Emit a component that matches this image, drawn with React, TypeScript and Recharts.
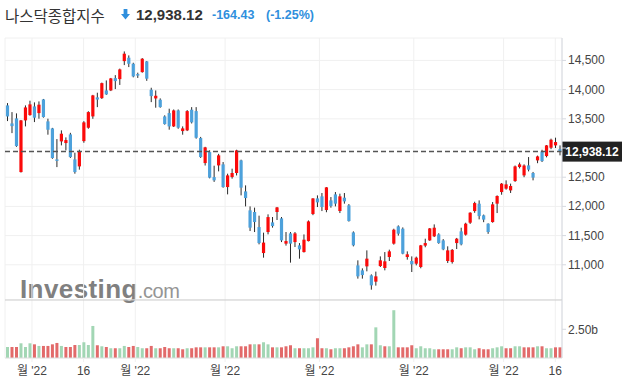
import { ComposedChart, Bar, XAxis, YAxis, CartesianGrid, ReferenceLine, Cell } from 'recharts';

// daily candles, Feb 18 - Aug 17 2022
const opens = [
  13730, 13421, 13507, 12588, 13473, 13564, 13712, 13598, 13832, 13456,
  13336, 12805, 13113, 13085, 13233, 12805, 12685, 13118, 13347, 13541,
  13867, 13854, 13986, 13986, 14197, 14180, 14488, 14546, 14443, 14266,
  14300, 14483, 13998, 13849, 13827, 13541, 13598, 13370, 13644, 13290,
  13302, 13656, 13632, 13170, 12742, 12930, 12502, 12702, 12720, 12331,
  12502, 12572, 12788, 12257, 11932, 11904, 11646, 11201, 11561, 11726,
  11904, 11795, 11362, 11538, 11389, 11333, 11218, 11406, 11869, 12137,
  12172, 11938, 12103, 12206, 11921, 12149, 12018, 11555, 10990, 10905,
  10973, 10819, 10711, 10979, 10945, 11133, 11362, 11658, 11618, 11133,
  11065, 11019, 10962, 11328, 11418, 11487, 11521, 11418, 11065, 11047,
  11372, 11572, 11516, 11721, 11920, 12046, 11847, 11704, 11732, 12047,
  12246, 12304, 12274, 12434, 12674, 12531, 12703, 12572, 12788, 12942,
  12862, 13005, 13045, 12981,
];
const highs = [
  13769, 13615, 13593, 13480, 13730, 13810, 13781, 13798, 13840, 13502,
  13345, 13153, 13302, 13182, 13260, 12920, 12971, 13460, 13630, 13910,
  13947, 14120, 14157, 14200, 14248, 14360, 14654, 14586, 14460, 14290,
  14540, 14490, 14032, 13986, 13850, 13560, 13673, 13660, 13660, 13370,
  13650, 13700, 13700, 13190, 13020, 12960, 12697, 12900, 12760, 12560,
  12646, 12970, 12800, 12360, 12000, 11979, 11841, 11550, 11864, 11818,
  11990, 11818, 11561, 11561, 11561, 11372, 11520, 11760, 12140, 12189,
  12229, 12330, 12160, 12246, 12218, 12229, 12040, 11572, 11076, 10939,
  11247, 10836, 10883, 11144, 11218, 11259, 11618, 11675, 11640, 11230,
  11144, 11140, 11340, 11447, 11630, 11692, 11540, 11440, 11316, 11270,
  11460, 11635, 11720, 11900, 12080, 12103, 11860, 11710, 12075, 12189,
  12400, 12446, 12390, 12700, 12750, 12720, 12845, 12590, 12870, 12970,
  13050, 13160, 13177, 13045,
];
const lows = [
  13461, 13255, 13020, 12580, 13370, 13553, 13444, 13502, 13520, 13228,
  12815, 12673, 13045, 12959, 12830, 12560, 12629, 13090, 13330, 13500,
  13700, 13840, 13910, 13975, 14009, 14080, 14420, 14386, 14210, 14200,
  14290, 14150, 13786, 13690, 13690, 13400, 13314, 13360, 13330, 13228,
  13290, 13420, 13160, 12830, 12700, 12480, 12420, 12600, 12320, 12206,
  12475, 12530, 12189, 12000, 11578, 11561, 11350, 11122, 11521, 11636,
  11767, 11389, 11328, 11037, 11304, 11105, 11210, 11400, 11850, 11989,
  11920, 11900, 11978, 12000, 11886, 12047, 11740, 11315, 10763, 10763,
  10888, 10574, 10643, 10962, 10905, 11065, 11345, 11500, 11180, 11088,
  10876, 10990, 10940, 11300, 11410, 11475, 11360, 11250, 11030, 11020,
  11270, 11333, 11500, 11700, 11890, 11778, 11730, 11530, 11721, 11886,
  12200, 12286, 12230, 12420, 12650, 12500, 12600, 12446, 12740, 12760,
  12840, 12980, 13000, 12874,
];
const closes = [
  13541, 13375, 13033, 13473, 13695, 13747, 13519, 13742, 13530, 13313,
  12828, 12780, 13245, 13136, 12845, 12588, 12942, 13439, 13615, 13901,
  13830, 14111, 13918, 14192, 14146, 14346, 14615, 14443, 14226, 14245,
  14529, 14187, 13889, 13895, 13701, 13410, 13370, 13644, 13348, 13336,
  13632, 13439, 13176, 12845, 13011, 12492, 12446, 12874, 12331, 12531,
  12572, 12959, 12321, 12143, 11636, 11732, 11372, 11380, 11817, 11663,
  11983, 11418, 11406, 11362, 11538, 11264, 11430, 11743, 12137, 12069,
  11989, 12326, 12006, 12047, 12172, 12086, 11749, 11333, 10802, 10824,
  11105, 10648, 10802, 11076, 11059, 11230, 11601, 11533, 11190, 11179,
  11008, 11122, 11333, 11372, 11623, 11635, 11372, 11264, 11247, 11255,
  11447, 11350, 11704, 11892, 12057, 11834, 11773, 11561, 12035, 12178,
  12389, 12377, 12349, 12685, 12720, 12700, 12629, 12493, 12856, 12776,
  13045, 13142, 13102, 12938.12,
];
// volume, billions
const volumes = [
  0.96, 0.96, 0.96, 1.28, 0.96, 1.28, 1.19, 1.05, 1.05, 1.05,
  1.19, 1.31, 1.05, 0.96, 0.96, 1.13, 1.13, 1.37, 1.13, 2.79,
  1.11, 1.02, 0.96, 0.85, 0.85, 0.85, 1.05, 0.96, 1.05, 0.96,
  0.85, 0.85, 1.05, 0.85, 0.85, 0.96, 0.85, 0.85, 0.85, 0.76,
  0.85, 0.85, 0.93, 0.93, 0.93, 0.93, 0.93, 0.93, 1.02, 1.02,
  0.85, 1.02, 1.02, 1.02, 1.19, 1.19, 1.19, 1.37, 1.19, 0.93,
  0.93, 0.93, 1.02, 1.11, 0.85, 0.85, 0.85, 0.85, 0.93, 1.72,
  0.85, 0.85, 0.76, 0.85, 0.85, 0.85, 0.93, 1.02, 1.19, 0.93,
  1.19, 1.19, 2.67, 1.11, 1.02, 1.02, 4.16, 0.93, 0.93, 0.93,
  1.11, 0.85, 1.02, 0.85, 0.85, 0.76, 0.76, 0.76, 0.76, 0.76,
  0.93, 0.85, 0.93, 0.93, 0.76, 0.85, 0.76, 0.76, 0.85, 0.93,
  1.02, 0.85, 0.85, 1.02, 1.02, 0.93, 0.93, 0.93, 1.02, 1.02,
  0.85, 0.85, 0.93, 0.93,
];

const priceTicks = [11000, 11500, 12000, 12500, 13000, 13500, 14000, 14500];
const volumeTicks = [2.5];
const dateTicks = [5.5, 17, 28.5, 48.5, 69.5, 90.5, 110.5, 122];
const dateLabels = ["월 '22", '16', "월 '22", "월 '22", "월 '22", "월 '22", "월 '22", '16'];

const lastClose = closes[closes.length - 1];

const rows = closes.map((c, i) => ({
  i,
  o: opens[i],
  h: highs[i],
  l: lows[i],
  c,
  v: volumes[i],
  up: i === 0 || c > closes[i - 1],
}));

const FONT = "'Liberation Sans', Arial, 'Noto Sans CJK KR', sans-serif";
const AXIS = '#d6d9e0';
const GRID = '#f0f0f0';
const UP = '#fb0a0a';
const DOWN = '#4da1db';

function Candle(props: any) {
  const { x, width, payload } = props;
  let { y, height } = props;
  if (height < 0) {
    y = y + height;
    height = -height;
  }
  const span = payload.h - payload.l || 1;
  const py = (v: number) => y + ((payload.h - v) / span) * height;
  const cx = x + width / 2;
  const top = py(Math.max(payload.o, payload.c));
  const bot = py(Math.min(payload.o, payload.c));
  return (
    <g>
      <line x1={cx} x2={cx} y1={y} y2={y + height} stroke="#2a2a2a" strokeWidth={1} />
      <rect x={cx - 1.6} y={top} width={3.2} height={Math.max(bot - top, 1.5)} fill={payload.c >= payload.o ? UP : DOWN} />
    </g>
  );
}

// price tick; the label under the last-price badge is left out
function PriceTick(props: any) {
  const { x, y, payload } = props;
  if (Math.abs(payload.value - lastClose) < 200) return <g />;
  return (
    <text x={x} y={y} dy={4} textAnchor="start" fill="#444" fontSize={12} fontFamily={FONT}>
      {payload.value.toLocaleString('en-US')}
    </text>
  );
}

function badge(p: any) {
  const vb = p.viewBox;
  const x = vb.x + vb.width;
  return (
    <g>
      <rect x={x} y={vb.y - 10} width={60} height={20} fill="#222" />
      <text x={x + 30} y={vb.y + 4.5} textAnchor="middle" fill="#fff" fontSize={12} fontWeight="bold" fontFamily={FONT}>
        {lastClose.toLocaleString('en-US', { minimumFractionDigits: 2 })}
      </text>
    </g>
  );
}

export default function App() {
  return (
    <div style={{ position: 'absolute', left: 0, top: 0, width: 626, height: 382, background: '#fff', fontFamily: FONT, overflow: 'hidden' }}>
      {/* header */}
      <div style={{ position: 'absolute', left: 5, top: 6, height: 18, lineHeight: '18px', fontSize: 15.5, color: '#333', fontFamily: "'Noto Sans CJK KR', sans-serif" }}>
        나스닥종합지수
      </div>
      <svg style={{ position: 'absolute', left: 121, top: 9 }} width={9} height={11}>
        <path d="M2.6 0 H6.4 V5 H9 L4.5 10.5 L0 5 H2.6 Z" fill="#2f8fdd" />
      </svg>
      <div style={{ position: 'absolute', left: 136, top: 6, height: 18, lineHeight: '18px', fontSize: 15, fontWeight: 'bold', color: '#333' }}>
        12,938.12
      </div>
      <div style={{ position: 'absolute', left: 212, top: 6, height: 18, lineHeight: '18px', fontSize: 12.5, fontWeight: 'bold', color: '#2f8fdd' }}>
        -164.43
      </div>
      <div style={{ position: 'absolute', left: 266, top: 6, height: 18, lineHeight: '18px', fontSize: 12.5, fontWeight: 'bold', color: '#2f8fdd' }}>
        (-1.25%)
      </div>

      {/* watermark */}
      <div style={{ position: 'absolute', left: 20, top: 276, lineHeight: '26px', whiteSpace: 'nowrap', color: '#808080' }}>
        <span style={{ fontSize: 26, fontWeight: 'bold', letterSpacing: 0.4 }}>Investing</span>
        <span style={{ fontSize: 20, letterSpacing: -0.4, color: '#959595' }}>.com</span>
      </div>

      {/* price panel */}
      <div style={{ position: 'absolute', left: 0, top: 0 }}>
        <ComposedChart width={626} height={300} data={rows} margin={{ top: 38, right: 0, bottom: 0, left: 5 }}>
          <CartesianGrid stroke={GRID} />
          <XAxis type="number" dataKey="i" domain={[-0.5, 123.5]} ticks={dateTicks} hide />
          <YAxis
            orientation="right"
            domain={[10397, 14884]}
            ticks={priceTicks}
            width={64}
            axisLine={{ stroke: AXIS }}
            tickLine={{ stroke: AXIS }}
            tickSize={4}
            tickMargin={2}
            tick={<PriceTick />}
          />
          <Bar dataKey={(d: any) => [d.l, d.h]} shape={<Candle />} barSize={3} isAnimationActive={false} />
          <ReferenceLine y={lastClose} stroke="#555" strokeWidth={1.5} strokeDasharray="5 3" label={badge} />
        </ComposedChart>
      </div>

      {/* volume panel */}
      <div style={{ position: 'absolute', left: 0, top: 0 }}>
        <ComposedChart width={626} height={382} data={rows} margin={{ top: 300, right: 0, bottom: 0, left: 5 }}>
          <CartesianGrid stroke={GRID} horizontal={false} />
          <XAxis
            type="number"
            dataKey="i"
            domain={[-0.5, 123.5]}
            ticks={dateTicks}
            interval={0}
            height={24}
            axisLine={{ stroke: '#dcdcdc' }}
            tickLine={{ stroke: GRID }}
            tickSize={4}
            tickMargin={4}
            tick={{ fill: '#444', fontSize: 12 }}
            tickFormatter={(v: number) => dateLabels[dateTicks.indexOf(v)]}
          />
          <YAxis
            orientation="right"
            domain={[0, 5.05]}
            ticks={volumeTicks}
            width={64}
            axisLine={{ stroke: AXIS }}
            tickLine={{ stroke: AXIS }}
            tickSize={4}
            tickMargin={2}
            tick={{ fill: '#444', fontSize: 12 }}
            tickFormatter={(v: number) => v.toFixed(2) + 'b'}
          />
          <ReferenceLine y={5.05} stroke="#cccccc" strokeWidth={1.2} />
          <Bar dataKey="v" barSize={3} isAnimationActive={false}>
            {rows.map((r) => (
              <Cell key={r.i} fill={r.up ? '#a2d6b4' : '#e26a6a'} />
            ))}
          </Bar>
        </ComposedChart>
      </div>
    </div>
  );
}
